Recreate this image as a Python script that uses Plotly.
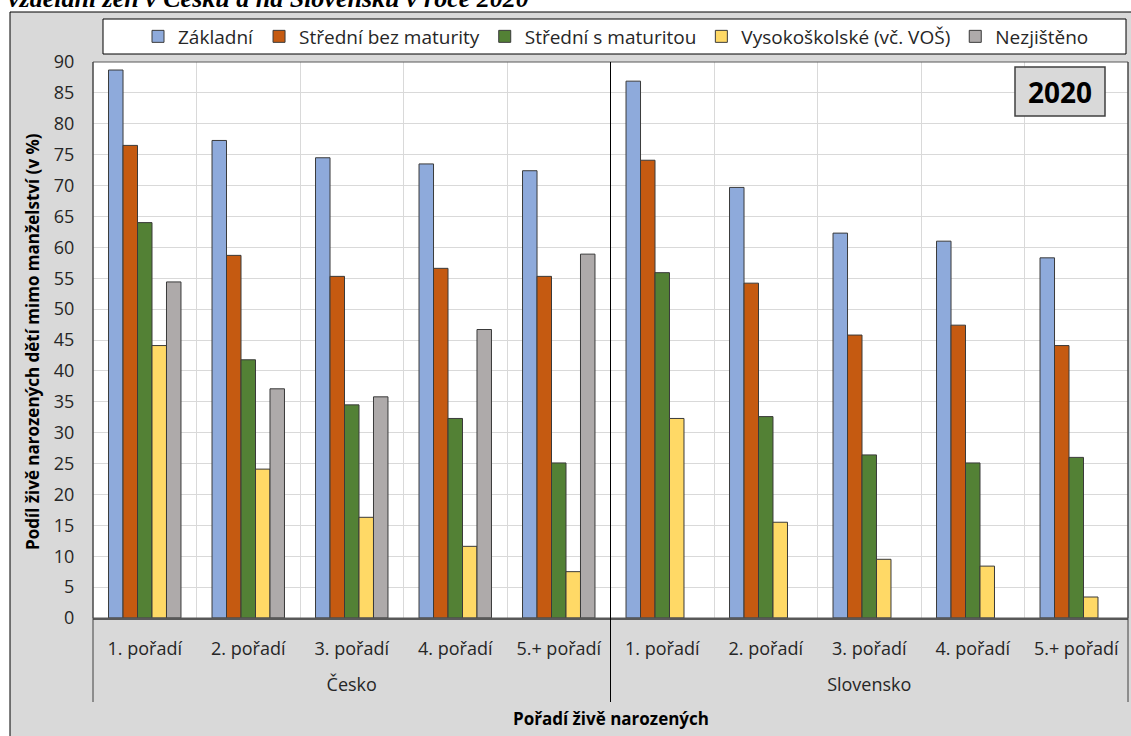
import plotly.graph_objects as go

# ---- data ----
countries = ["Česko", "Slovensko"]
orders = ["1. pořadí", "2. pořadí", "3. pořadí", "4. pořadí", "5.+ pořadí"]
series_names = ["Základní", "Střední bez maturity", "Střední s maturitou",
                "Vysokoškolské (vč. VOŠ)", "Nezjištěno"]

cz_zakladni = [88.7, 77.3, 74.5, 73.5, 72.4]
cz_bez_maturity = [76.5, 58.7, 55.3, 56.6, 55.3]
cz_s_maturitou = [64.0, 41.8, 34.5, 32.3, 25.1]
cz_vysokoskolske = [44.1, 24.1, 16.3, 11.6, 7.5]
cz_nezjisteno = [54.4, 37.1, 35.8, 46.7, 58.9]

sk_zakladni = [86.9, 69.7, 62.3, 61.0, 58.3]
sk_bez_maturity = [74.1, 54.2, 45.8, 47.4, 44.1]
sk_s_maturitou = [55.9, 32.6, 26.4, 25.1, 26.0]
sk_vysokoskolske = [32.3, 15.5, 9.5, 8.4, 3.4]
sk_nezjisteno = [None, None, None, None, None]

colors = ["#8EAADB", "#C55A11", "#538135", "#FFD966", "#AEAAAA"]

year_label = "2020"
title_text = "vzdělání žen v Česku a na Slovensku v roce 2020"
y_title = "Podíl živě narozených dětí mimo manželství (v %)"
x_title = "Pořadí živě narozených"

# ---- figure ----
country_labels = ["<br>" + c for c in countries]
x_multi = [[c for c in country_labels for _ in orders], orders * len(countries)]
series_values = [
    cz_zakladni + sk_zakladni,
    cz_bez_maturity + sk_bez_maturity,
    cz_s_maturitou + sk_s_maturitou,
    cz_vysokoskolske + sk_vysokoskolske,
    cz_nezjisteno + sk_nezjisteno,
]

FONT = "Open Sans"
TXT = "#262626"

fig = go.Figure()
for name, vals, col in zip(series_names, series_values, colors):
    fig.add_trace(go.Bar(
        x=x_multi, y=vals, name=name,
        marker=dict(color=col, line=dict(color="#3a3a3a", width=1)),
    ))

W, H = 1131, 736
ML, MR, MT, MB = 93, 3, 62, 118
pw = W - ML - MR
ph = H - MT - MB

def px_x(px):
    return (px - ML) / pw

def px_y(py):
    return 1 - (py - MT) / ph

shapes = [
    dict(type="rect", xref="paper", yref="paper", layer="below",
         x0=px_x(10), x1=px_x(1160), y0=px_y(780), y1=px_y(12),
         fillcolor="#D9D9D9", line=dict(color="#000000", width=1)),
    dict(type="rect", xref="paper", yref="paper", layer="below",
         x0=0, x1=1, y0=0, y1=1, fillcolor="#FFFFFF", line=dict(width=0)),
    dict(type="rect", xref="paper", yref="paper", layer="below",
         x0=px_x(103), x1=px_x(1126), y0=px_y(54), y1=px_y(19),
         fillcolor="#FFFFFF", line=dict(color="#000000", width=1)),
    dict(type="rect", xref="paper", yref="paper", layer="above",
         x0=0, x1=1, y0=0, y1=1, fillcolor="rgba(0,0,0,0)",
         line=dict(color="#595959", width=1)),
    dict(type="line", xref="paper", yref="paper", layer="above",
         x0=0, x1=0, y0=px_y(702), y1=1, line=dict(color="#404040", width=1)),
    dict(type="line", xref="paper", yref="paper", layer="above",
         x0=0.5, x1=0.5, y0=px_y(702), y1=1, line=dict(color="#000000", width=1)),
    dict(type="line", xref="paper", yref="paper", layer="above",
         x0=1, x1=1, y0=px_y(702), y1=1, line=dict(color="#404040", width=1)),
    dict(type="rect", xref="paper", yref="paper", layer="above",
         x0=px_x(1015), x1=px_x(1105), y0=px_y(116), y1=px_y(67),
         fillcolor="#D9D9D9", line=dict(color="#404040", width=1.5)),
]

annotations = [
    dict(text=year_label, xref="paper", yref="paper", x=px_x(1060), y=px_y(91.5),
         xanchor="center", yanchor="middle", showarrow=False,
         font=dict(family=FONT, size=28, color="#000000", weight="bold")),
    dict(text=y_title, xref="paper", yref="paper", x=px_x(32), y=px_y(342),
         xanchor="center", yanchor="middle", showarrow=False, textangle=-90,
         font=dict(family=FONT, size=17, color="#000000", weight="bold")),
    dict(text=x_title, xref="paper", yref="paper", x=0.5, y=px_y(718),
         xanchor="center", yanchor="middle", showarrow=False,
         font=dict(family=FONT, size=17, color="#000000", weight="bold")),
    dict(text="<b><i>" + title_text + "</i></b>", xref="paper", yref="paper",
         x=px_x(6), y=px_y(-1.5), xanchor="left", yanchor="middle", showarrow=False,
         font=dict(family="Liberation Serif", size=26, color="#000000")),
]

fig.update_layout(
    width=W, height=H,
    margin=dict(l=ML, r=MR, t=MT, b=MB, pad=0),
    paper_bgcolor="#FFFFFF", plot_bgcolor="#FFFFFF",
    barmode="group", bargap=0.30, bargroupgap=0,
    font=dict(family=FONT, color=TXT),
    showlegend=True,
    legend=dict(orientation="h", x=px_x(616), y=px_y(36.5), xanchor="center",
                yanchor="middle", bgcolor="rgba(0,0,0,0)", borderwidth=0,
                font=dict(family=FONT, size=19, color=TXT), traceorder="normal"),
    shapes=shapes, annotations=annotations,
)

fig.update_xaxes(
    type="multicategory", range=[-0.5, 9.5], tickson="boundaries",
    showgrid=True, gridcolor="#D9D9D9", gridwidth=1,
    showdividers=False,
    ticks="outside", ticklen=30, tickcolor="rgba(0,0,0,0)",
    ticklabelstandoff=13,
    tickfont=dict(family=FONT, size=18, color=TXT),
    showline=True, linecolor="#595959", linewidth=2,
    fixedrange=True,
)
fig.update_yaxes(
    range=[0, 90], dtick=5, tick0=0,
    showgrid=True, gridcolor="#D9D9D9", gridwidth=1,
    ticks="outside", ticklen=14, tickcolor="rgba(0,0,0,0)",
    tickfont=dict(family=FONT, size=18, color=TXT),
    showline=False, zeroline=False, fixedrange=True,
)

fig.write_html("out.html", config={"displayModeBar": False},
               post_script="document.body.style.margin='0px';")
